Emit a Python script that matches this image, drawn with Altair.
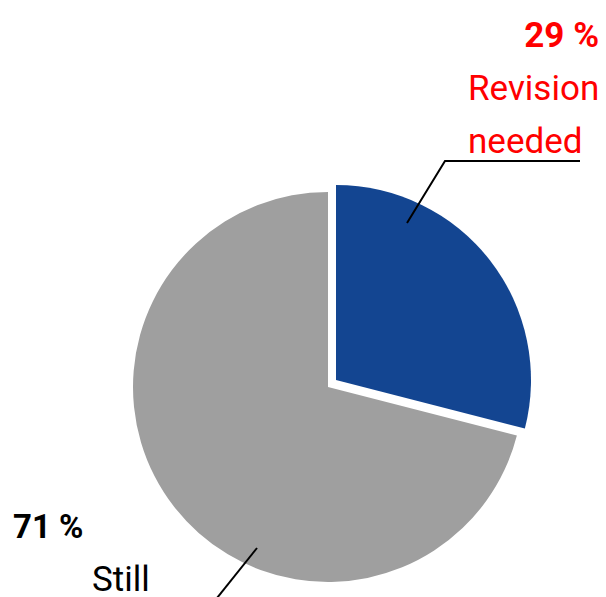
import altair as alt
import pandas as pd

# Slice data
categories = ["Revision needed", "Still valid"]
values = [29, 71]
order = [1, 2]
colors = ["#134591", "#9f9f9f"]

# Label text
label_texts = ["29 %", "Revision", "needed", "71 %", "Still"]
label_colors = ["#ff0000", "#ff0000", "#ff0000", "#000000", "#000000"]
label_weights = ["bold", "normal", "normal", "bold", "normal"]
label_x = [591, 460, 460, 5, 84]
label_y = [39, 92, 145, 530, 583]
label_align = ["right", "left", "left", "left", "left"]
label_size = [35, 35, 35, 33, 35]

# Leader lines (pixel positions)
line_id = [1, 1, 1, 2, 2]
line_step = [0, 1, 2, 0, 1]
line_x = [399, 437, 572, 249, 205]
line_y = [215, 153, 153, 540, 595]

FONT = "Roboto"

pie_df = pd.DataFrame({"category": categories, "value": values, "order": order})
lab_df = pd.DataFrame({"text": label_texts, "color": label_colors, "weight": label_weights,
                       "x": label_x, "y": label_y, "align": label_align, "size": label_size})
line_df = pd.DataFrame({"id": line_id, "step": line_step, "x": line_x, "y": line_y})

R = 195

def slice_layer(cat, color, cx, cy):
    return alt.Chart(pie_df).mark_arc(outerRadius=R, color=color).encode(
        theta=alt.Theta("value:Q", stack=True),
        order=alt.Order("order:Q"),
        x=alt.value(cx),
        y=alt.value(cy),
        opacity=alt.condition(alt.datum.category == cat, alt.value(1), alt.value(0)),
    )

gray = slice_layer("Still valid", colors[1], 320, 379)
blue = slice_layer("Revision needed", colors[0], 328, 372)

lines = alt.Chart(line_df).mark_line(color="black", strokeWidth=2).encode(
    x=alt.X("x:Q", scale=None, axis=None),
    y=alt.Y("y:Q", scale=None, axis=None),
    detail="id:N",
    order="step:Q",
)

text_layers = []
for al in ["left", "right"]:
    for wt in ["bold", "normal"]:
        sub = lab_df[(lab_df["align"] == al) & (lab_df["weight"] == wt)]
        if len(sub) == 0:
            continue
        text_layers.append(
            alt.Chart(sub).mark_text(align=al, baseline="alphabetic", font=FONT, fontWeight=wt).encode(
                x=alt.X("x:Q", scale=None, axis=None),
                y=alt.Y("y:Q", scale=None, axis=None),
                text="text:N",
                color=alt.Color("color:N", scale=None, legend=None),
                size=alt.Size("size:Q", scale=None, legend=None),
            )
        )

chart = alt.layer(gray, blue, lines, *text_layers).properties(
    width=590, height=589, padding=0, autosize=alt.AutoSizeParams(type="none")
).configure_view(stroke=None)

chart.save("out.html", embed_options={"renderer": "svg", "actions": False})
